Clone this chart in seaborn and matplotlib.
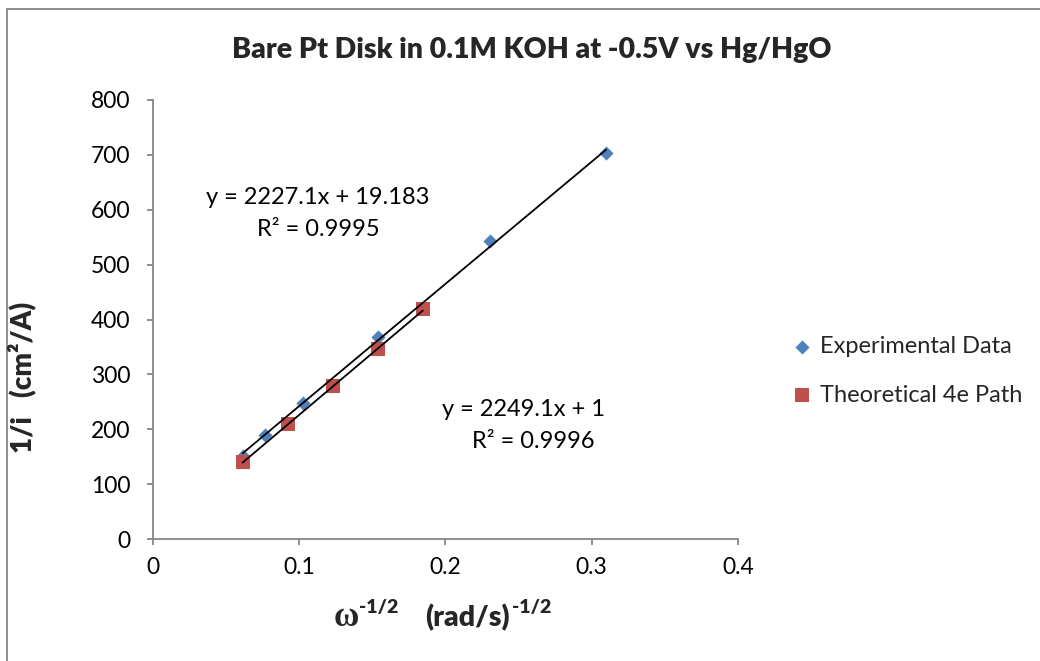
import matplotlib
matplotlib.use("Agg")
import matplotlib.pyplot as plt
import matplotlib.patches as mpatches
import numpy as np
import pandas as pd
import seaborn as sns

# Rotating-disk data: inverse current density vs. inverse square root of rotation rate
exp_x = [0.0615, 0.0768, 0.1025, 0.1538, 0.2306, 0.3099]
exp_y = [151.0, 189.5, 248.4, 367.6, 542.5, 703.0]
theo_x = [0.0615, 0.0923, 0.1230, 0.1538, 0.1846]
theo_y = [140.9, 209.6, 279.4, 345.7, 419.0]

# Linear trendline coefficients (slope, intercept) and R^2
exp_fit = (2227.1, 19.183, 0.9995)
theo_fit = (2249.1, 1.0, 0.9996)

series_names = ["Experimental Data", "Theoretical 4e Path"]
series_colors = ["#4F81BD", "#C0504D"]

x_ticks = [0, 0.1, 0.2, 0.3, 0.4]
x_tick_labels = ["0", "0.1", "0.2", "0.3", "0.4"]
y_ticks = [0, 100, 200, 300, 400, 500, 600, 700, 800]

title = "Bare Pt Disk in 0.1M KOH at -0.5V vs Hg/HgO"

sns.set_style("white")
plt.rcParams["font.family"] = ["Lato", "DejaVu Sans"]

W, H = 1040, 661
fig = plt.figure(figsize=(W / 100, H / 100), dpi=100)
ax = fig.add_axes([152.7 / W, 1 - 539 / H, (737.8 - 152.7) / W, (539 - 100) / H])

GRAY = "#868686"
BOLD = "heavy"

df_exp = pd.DataFrame({"x": exp_x, "y": exp_y})
df_theo = pd.DataFrame({"x": theo_x, "y": theo_y})

sns.scatterplot(data=df_exp, x="x", y="y", ax=ax, marker="D", s=52,
                color=series_colors[0], linewidth=0, label=series_names[0], zorder=3)
sns.scatterplot(data=df_theo, x="x", y="y", ax=ax, marker="s", s=88,
                color=series_colors[1], linewidth=0, label=series_names[1], zorder=3)

# Trendlines drawn from the fitted coefficients over each series' range
for xs, (m, b, _) in ((exp_x, exp_fit), (theo_x, theo_fit)):
    xl = np.array([min(xs), max(xs)])
    ax.plot(xl, m * xl + b, color="black", lw=1.3, zorder=4)

ax.set_xlim(0, 0.4)
ax.set_ylim(0, 800)
ax.set_xticks(x_ticks)
ax.set_xticklabels(x_tick_labels)
ax.set_yticks(y_ticks)
ax.set_xlabel("")
ax.set_ylabel("")

for side in ("top", "right"):
    ax.spines[side].set_visible(False)
for side in ("left", "bottom"):
    ax.spines[side].set_color(GRAY)
    ax.spines[side].set_linewidth(1.3)

ax.tick_params(axis="both", direction="out", length=4, width=1.3, color=GRAY,
               labelsize=16.5, labelcolor="black")
ax.tick_params(axis="x", pad=9)
ax.tick_params(axis="y", pad=12)
ax.tick_params(left=True, bottom=True)

# Trendline equations
def fpx(x, y):
    return x / W, 1 - y / H

eq_kw = dict(fontsize=17, ha="center", va="center", color="black")
fig.text(*fpx(318, 197), f"y = {exp_fit[0]}x + {exp_fit[1]}", **eq_kw)
fig.text(*fpx(318, 229), f"R² = {exp_fit[2]}", **eq_kw)
fig.text(*fpx(524, 410), f"y = {theo_fit[0]}x + {theo_fit[1]:g}", **eq_kw)
fig.text(*fpx(533, 441), f"R² = {theo_fit[2]}", **eq_kw)

# Title
fig.text(*fpx(532, 58), title, fontsize=20.5, fontweight=BOLD, ha="center", va="baseline")

# Y axis label
fig.text(*fpx(22, 377), "1/i   (cm²/A)", fontsize=20, fontweight=BOLD,
         rotation=90, ha="center", va="center")

# X axis label: ω^-1/2   (rad/s)^-1/2
fig.text(*fpx(334, 626), "ω", fontsize=25, fontweight="bold",
         family=["Liberation Serif", "DejaVu Serif"], ha="left", va="baseline")
fig.text(*fpx(359, 613), "-1/2", fontsize=14, fontweight=BOLD, ha="left", va="baseline")
fig.text(*fpx(425, 626), "(rad/s)", fontsize=20.5, fontweight=BOLD, ha="left", va="baseline")
fig.text(*fpx(512, 613), "-1/2", fontsize=14, fontweight=BOLD, ha="left", va="baseline")

# Legend
ax.legend(loc="center left", bbox_to_anchor=(795 / W, 1 - 371 / H),
          bbox_transform=fig.transFigure, frameon=False, fontsize=17,
          handlelength=0.6, handletextpad=0.45, labelspacing=1.15, borderaxespad=0,
          borderpad=0)

# Chart area border
fig.patches.append(mpatches.Rectangle((7 / W, -0.05), 1.2, 1 - 9 / H + 0.05,
                                      transform=fig.transFigure, fill=False,
                                      edgecolor=GRAY, lw=1.3, zorder=0))

fig.savefig("out.png", dpi=100)
